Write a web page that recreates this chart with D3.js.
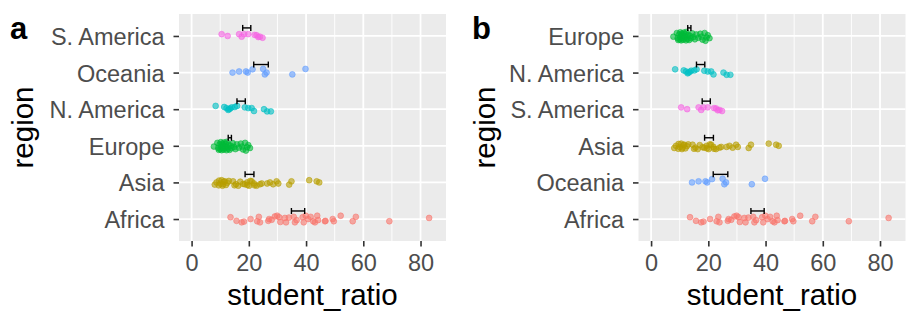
<!DOCTYPE html>
<html>
<head>
<meta charset="utf-8">
<script src="https://cdn.jsdelivr.net/npm/d3@7"></script>
<style>
  body { margin: 0; background: #ffffff; }
  svg { display: block; }
</style>
</head>
<body>
<script>
// Student-to-teacher ratio by region: one jittered point per country,
// with the regional mean ± standard error drawn as a black error bar.
const regions = ["Africa", "Asia", "Europe", "N. America", "Oceania", "S. America"];
const regionColors = ["#F8766D", "#B79F00", "#00BA38", "#00BFC4", "#619CFF", "#F564E3"];

const africaRatio = [13.6, 15.7, 17.5, 18.3, 20.6, 22.9, 23.5, 23.9, 26.8, 27.1, 28.0, 29.1, 29.9, 30.6, 31.0,
  32.6, 33.0, 34.0, 35.7, 36.1, 36.7, 38.8, 39.2, 39.9, 40.7, 41.6, 42.5, 43.1, 43.9, 44.2, 46.6, 46.8,
  49.3, 49.7, 52.1, 56.3, 57.4, 69.1, 83.0];
const africaJitter = [-0.5, 0.5, 0.9, 0.7, 0, 0.6, -0.6, 0.9, 0.5, 0, 0.2, -0.7, -0.9, -0.5, 0.8,
  -0.3, 0.9, -0.4, -0.6, 0.9, 0.3, -0.5, 0.9, -0.9, 0, -0.6, 0.6, 0.9, -0.9, 0.3, 0.6, 0.5,
  0, 0.6, -0.9, 0.6, -0.6, 0.6, -0.3];

const asiaRatio = [8.1, 8.7, 9.5, 9.6, 10.0, 10.5, 10.8, 11.0, 11.3, 11.6, 12.0, 12.5, 13.0, 14.5, 15.0,
  15.5, 16.3, 17.0, 18.0, 18.6, 19.4, 19.5, 20.1, 20.5, 21.0, 21.8, 22.0, 22.7, 23.9, 24.5,
  26.4, 27.4, 28.5, 29.7, 30.3, 34.1, 34.9, 41.1, 43.7, 44.6];
const asiaJitter = [0.6, 0, 0.8, -0.5, 0.3, -0.6, 0.9, 0.5, -0.2, -0.3, 0.7, 0.1, -0.4, -0.3, 0.8,
  0.5, 0.9, -0.2, 0.4, 0.5, 0, 0.7, 0.9, -0.4, -0.3, 0.3, 0.8, 0.9, 0.5, 0.3,
  0.3, 0, 0.5, -0.3, 0.3, 0.6, -0.3, -0.6, -0.3, 0];

const europeRatio = [7.8, 9.0, 9.3, 9.5, 9.8, 10.0, 10.2, 10.3, 10.5, 10.7, 10.8, 11.0, 11.2, 11.4, 11.5,
  11.8, 12.0, 12.2, 12.3, 12.6, 12.8, 13.0, 13.3, 13.7, 14.0, 14.4, 14.8, 15.3, 15.8, 16.5,
  17.2, 17.6, 18.0, 18.7, 19.0, 19.4, 19.8, 20.4];
const europeJitter = [0.2, -0.8, 0.6, 1.1, -0.4, 0.9, -1.0, 0.3, 1.2, -0.6, 0.5, -0.2, 1.0, -0.9, 0.7,
  0.1, -0.5, 1.2, -1.1, 0.4, 0.8, -0.3, 1.1, 0.0, 0.6, -0.7, 0.3, 0.9, -0.4, 0.5,
  -0.6, 0.2, 1.0, -0.8, 1.3, 0.4, -0.2, 0.6];

const nAmericaRatio = [8.4, 11.4, 12.2, 12.8, 13.1, 13.5, 14.0, 15.1, 15.9, 18.6, 19.8, 21.0, 21.8, 25.3, 26.4, 27.7];
const nAmericaJitter = [-0.9, -0.6, -0.3, 0.2, 0, -0.2, -0.5, -0.6, -0.9, -0.5, -0.3, -0.3, 0.5, 0, 0.6, 0.6];

const oceaniaRatio = [14.3, 16.6, 19.0, 19.6, 21.3, 25.0, 25.6, 26.2, 35.2, 39.8];
const oceaniaJitter = [0, -0.3, -0.3, 0, -0.9, -1.0, 0.5, 0, 0.5, -1.0];

const sAmericaRatio = [10.5, 12.6, 16.6, 17.5, 18.3, 19.8, 22.0, 22.7, 23.3, 23.9, 24.8];
const sAmericaJitter = [-0.5, 0, -0.5, 0.2, -0.5, -0.5, -0.3, -0.2, 0.3, 0.2, 0.5];

const xTicks = [0, 20, 40, 60, 80];
const xMinor = [10, 30, 50, 70];
const xDomain = [-4.4, 88.9];

const ratios = [africaRatio, asiaRatio, europeRatio, nAmericaRatio, oceaniaRatio, sAmericaRatio];
const jitters = [africaJitter, asiaJitter, europeJitter, nAmericaJitter, oceaniaJitter, sAmericaJitter];

const rows = regions.map((r, i) => {
  const v = ratios[i];
  return {
    region: r,
    color: regionColors[i],
    values: v,
    jitter: jitters[i],
    mean: d3.mean(v),
    se: d3.deviation(v) / Math.sqrt(v.length)
  };
});

const W = 921, H = 326;
const font = "'Liberation Sans', Arial, Helvetica, sans-serif";
const tickFont = 23.5, titleFont = 29.5;

const svg = d3.select("body").append("svg")
  .attr("width", W).attr("height", H)
  .style("font-family", font);

// panel a: alphabetical, Africa at the bottom; panel b: ordered by mean ratio
const orderA = regions.slice().reverse();
const orderB = d3.sort(rows, d => d.mean).map(d => d.region);

function drawPanel(letter, order, box, letterX) {
  const g = svg.append("g");
  const x = d3.scaleLinear().domain(xDomain).range([box.left, box.right]);
  const y = d3.scalePoint().domain(order).range([box.top, box.bottom]).padding(0.6);
  const jitterPx = y.step() * 0.1;

  g.append("rect")
    .attr("x", box.left).attr("y", box.top)
    .attr("width", box.right - box.left).attr("height", box.bottom - box.top)
    .attr("fill", "#EBEBEB");

  g.selectAll(".minor").data(xMinor).join("line")
    .attr("x1", d => x(d)).attr("x2", d => x(d))
    .attr("y1", box.top).attr("y2", box.bottom)
    .attr("stroke", "#ffffff").attr("stroke-width", 0.9);

  g.selectAll(".majorx").data(xTicks).join("line")
    .attr("x1", d => x(d)).attr("x2", d => x(d))
    .attr("y1", box.top).attr("y2", box.bottom)
    .attr("stroke", "#ffffff").attr("stroke-width", 1.8);

  g.selectAll(".majory").data(order).join("line")
    .attr("x1", box.left).attr("x2", box.right)
    .attr("y1", d => y(d)).attr("y2", d => y(d))
    .attr("stroke", "#ffffff").attr("stroke-width", 1.8);

  // country points
  rows.forEach(row => {
    const pts = row.values.map((v, i) => ({ v, j: row.jitter[i] }));
    g.append("g").selectAll("circle").data(pts).join("circle")
      .attr("cx", d => x(d.v))
      .attr("cy", d => y(row.region) + d.j * jitterPx)
      .attr("r", 2.9)
      .attr("fill", row.color).attr("fill-opacity", 0.6)
      .attr("stroke", row.color).attr("stroke-opacity", 0.6)
      .attr("stroke-width", 0.9);
  });

  // mean ± SE bars, sitting just above each row
  const barOff = y.step() * 0.22;
  const cap = 3;
  const eb = g.append("g").attr("stroke", "#000").attr("stroke-width", 1.4).attr("fill", "none");
  rows.forEach(row => {
    const cy = y(row.region) - barOff;
    const x0 = x(row.mean - row.se), x1 = x(row.mean + row.se);
    eb.append("line").attr("x1", x0).attr("x2", x1).attr("y1", cy).attr("y2", cy);
    eb.append("line").attr("x1", x0).attr("x2", x0).attr("y1", cy - cap).attr("y2", cy + cap);
    eb.append("line").attr("x1", x1).attr("x2", x1).attr("y1", cy - cap).attr("y2", cy + cap);
  });

  // x axis
  const xa = g.append("g").attr("transform", `translate(0,${box.bottom})`)
    .call(d3.axisBottom(x).tickValues(xTicks).tickSize(5.5).tickPadding(3).tickFormat(d3.format("d")));
  xa.select(".domain").remove();
  xa.selectAll(".tick line").attr("stroke", "#333333").attr("stroke-width", 1.6);
  xa.selectAll(".tick text").attr("fill", "#4D4D4D").attr("font-size", tickFont).attr("font-family", font)
    .attr("dy", null).attr("y", 29.5);

  // y axis
  const ya = g.append("g").attr("transform", `translate(${box.left},0)`)
    .call(d3.axisLeft(y).tickSize(5.5).tickPadding(9));
  ya.select(".domain").remove();
  ya.selectAll(".tick line").attr("stroke", "#333333").attr("stroke-width", 1.6);
  ya.selectAll(".tick text").attr("fill", "#4D4D4D").attr("font-size", tickFont).attr("font-family", font)
    .attr("dy", "0.36em");

  // axis titles
  g.append("text")
    .attr("x", (box.left + box.right) / 2).attr("y", 305)
    .attr("text-anchor", "middle").attr("font-size", titleFont).attr("fill", "#000")
    .text("student_ratio");
  g.append("text")
    .attr("transform", `translate(${letterX + 23},${(box.top + box.bottom) / 2}) rotate(-90)`)
    .attr("text-anchor", "middle").attr("font-size", titleFont).attr("fill", "#000")
    .text("region");

  // panel tag
  g.append("text")
    .attr("x", letterX).attr("y", 39)
    .attr("font-size", 31).attr("font-weight", "bold").attr("fill", "#000")
    .text(letter);
}

drawPanel("a", orderA, { left: 179, right: 446, top: 14, bottom: 241 }, 10);
drawPanel("b", orderB, { left: 638.5, right: 905.5, top: 14, bottom: 241 }, 472);
</script>
</body>
</html>
